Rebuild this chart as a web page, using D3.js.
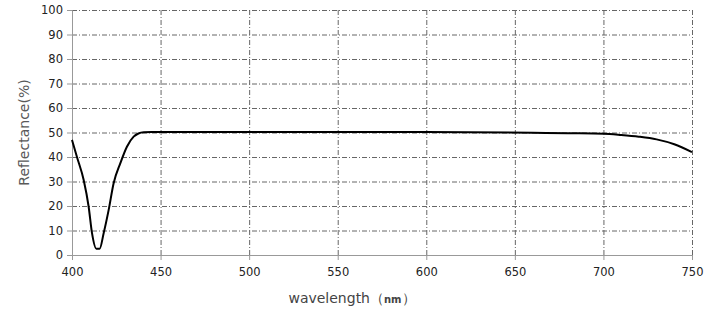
<!DOCTYPE html>
<html lang="en">
  <head>
    <meta charset="UTF-8" />
    <title>Reflectance</title>
    <script src="https://d3js.org/d3.v7.min.js"></script>
    <style>
      body { margin: 0; background: #fff; }
    </style>
  </head>
  <body>
    <svg width="712" height="320"></svg>
    <script>
      let wavelength = [400, 402.8, 406.6, 409.4, 411.3, 413.7, 415.6, 417.9, 420.7, 423.5, 427.3, 431, 434.8, 437.5, 440.5, 445, 500, 600, 660, 680, 700, 710, 720, 730, 740, 750];
      let reflectance = [47, 40, 30.6, 19.7, 8.9, 2.6, 2.6, 9, 18.4, 29.3, 37.5, 44.2, 48.3, 49.6, 50.1, 50.2, 50.2, 50.2, 49.9, 49.7, 49.5, 49, 48.3, 47.2, 45.2, 42];
      let xTicks = [400, 450, 500, 550, 600, 650, 700, 750];
      let yTicks = [0, 10, 20, 30, 40, 50, 60, 70, 80, 90, 100];

      let margin = { top: 10, right: 20, bottom: 65, left: 72 },
        width = 692 - margin.left,
        height = 255 - margin.top;
      let chart = d3
        .select("svg")
        .append("g")
        .attr("transform", "translate(" + margin.left + "," + margin.top + ")");
      let xScale = d3.scaleLinear().domain([400, 750]).range([0, width]);
      let yScale = d3.scaleLinear().domain([0, 100]).range([height, 0]);

      // grid
      chart
        .selectAll(".hgrid")
        .data(yTicks.filter((d) => d > 0))
        .enter()
        .append("line")
        .attr("x1", 0)
        .attr("x2", width)
        .attr("y1", (d) => yScale(d) + 0.5)
        .attr("y2", (d) => yScale(d) + 0.5)
        .attr("stroke", "#666")
        .attr("stroke-width", 1)
        .attr("stroke-dasharray", "5,2,1,2");
      chart
        .selectAll(".vgrid")
        .data(xTicks.filter((d) => d > 400))
        .enter()
        .append("line")
        .attr("x1", (d) => xScale(d) + 0.5)
        .attr("x2", (d) => xScale(d) + 0.5)
        .attr("y1", 0)
        .attr("y2", height)
        .attr("stroke", "#666")
        .attr("stroke-width", 1)
        .attr("stroke-dasharray", "5,2,1,2");

      let xAxis = chart
        .append("g")
        .attr("transform", "translate(0," + height + ")")
        .call(d3.axisBottom(xScale).tickValues(xTicks).tickSize(5).tickPadding(8));
      let yAxis = chart
        .append("g")
        .call(d3.axisLeft(yScale).tickValues(yTicks).tickSize(5).tickPadding(4));

      [xAxis, yAxis].forEach((a) => {
        a.select(".domain").attr("stroke", "#999");
        a.selectAll(".tick line").attr("stroke", "#999");
        a.selectAll("text")
          .attr("fill", "#222")
          .style("font-family", "DejaVu Sans, Verdana, sans-serif")
          .style("font-size", "11.5px");
      });

      let line = d3
        .line()
        .x((d, i) => xScale(wavelength[i]))
        .y((d) => yScale(d))
        .curve(d3.curveMonotoneX);

      chart
        .append("path")
        .datum(reflectance)
        .attr("d", line)
        .attr("fill", "none")
        .attr("stroke", "#000")
        .attr("stroke-width", 2);

      chart
        .append("text")
        .attr("transform", "translate(-43," + height / 2 + ") rotate(-90)")
        .attr("text-anchor", "middle")
        .attr("fill", "#595959")
        .style("font-family", "DejaVu Sans, Verdana, sans-serif")
        .style("font-size", "14px")
        .text("Reflectance(%)");

      let xl = chart
        .append("text")
        .attr("x", 280)
        .attr("y", height + 48)
        .attr("text-anchor", "middle")
        .attr("fill", "#444")
        .style("font-family", "DejaVu Sans, Verdana, sans-serif")
        .style("font-size", "14px");
      xl.append("tspan").text("wavelength（");
      xl.append("tspan").style("font-size", "10px").style("font-weight", "bold").text("nm");
      xl.append("tspan").text("）");
    </script>
  </body>
</html>
